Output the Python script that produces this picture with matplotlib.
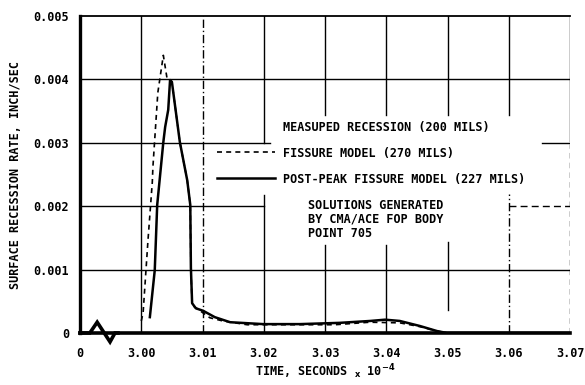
import numpy as np
import matplotlib.pyplot as plt
from matplotlib.lines import Line2D

# time in units of 1e-4 s, recession rate in inch/sec
fissure_time = [3.0000, 3.0003, 3.0011, 3.0018, 3.0019, 3.0027, 3.0036, 3.0042,
                3.0050, 3.0063, 3.0075, 3.0080, 3.0081, 3.0083, 3.0096, 3.0112,
                3.0133, 3.0173, 3.0259, 3.0316, 3.0373, 3.0422, 3.0455, 3.0483,
                3.0499, 3.0700]
fissure_rate = [0.00019, 0.00032, 0.00147, 0.00238, 0.00262, 0.00379, 0.00438, 0.00402,
                0.00396, 0.00301, 0.00241, 0.00202, 0.00103, 0.00044, 0.00035, 0.00024,
                0.00019, 0.00013, 0.00013, 0.00013, 0.00017, 0.00016, 0.00010, 0.00003,
                0.0, 0.0]

postpeak_time = [3.0014, 3.0022, 3.0026, 3.0036, 3.0039, 3.0044, 3.0047, 3.0050,
                 3.0063, 3.0075, 3.0080, 3.0081, 3.0083, 3.0089, 3.0101, 3.0120,
                 3.0145, 3.0199, 3.0259, 3.0324, 3.0374, 3.0398, 3.0422, 3.0455,
                 3.0483, 3.0499, 3.0700]
postpeak_rate = [0.00025, 0.00099, 0.00202, 0.00301, 0.00325, 0.00352, 0.00399, 0.00396,
                 0.00301, 0.00241, 0.00202, 0.00103, 0.00047, 0.00039, 0.00035, 0.00025,
                 0.00017, 0.00014, 0.00014, 0.00016, 0.00019, 0.00021, 0.00019, 0.00011,
                 0.00003, 0.0, 0.0]

x_ticklabels = ['0', '3.00', '3.01', '3.02', '3.03', '3.04', '3.05', '3.06', '3.07']
y_ticks = [0, 0.001, 0.002, 0.003, 0.004, 0.005]
y_ticklabels = ['0', '0.001', '0.002', '0.003', '0.004', '0.005']

legend_labels = ['MEASUPED RECESSION (200 MILS)',
                 'FISSURE MODEL (270 MILS)',
                 'POST-PEAK FISSURE MODEL (227 MILS)']
note = 'SOLUTIONS GENERATED\nBY CMA/ACE FOP BODY\nPOINT 705'

FONT = dict(family='DejaVu Sans Mono', fontweight='bold')


def to_axis(t):
    # broken axis: "0" sits at position 0, 3.00 at 1, then one unit per 0.01
    return (np.asarray(t) - 3.0) * 100 + 1


fig = plt.figure(figsize=(5.85, 3.85), dpi=100)
ax = fig.add_axes([0.1368, 0.1351, 0.8376, 0.8233])
ax.set_xlim(0, 8)
ax.set_ylim(0, 0.005)

# hand drawn style grid, interrupted behind the annotations
hsegs = [(0.004, 0, 8, '-'), (0.001, 0, 8, '-'),
         (0.003, 0, 3.1, '-'), (0.003, 7.54, 8, '-'),
         (0.002, 0, 3.0, '-'), (0.002, 7.0, 8, (0, (5, 3)))]
for y, x0, x1, ls in hsegs:
    ax.plot([x0, x1], [y, y], color='black', lw=1.0, ls=ls)

vsegs = [(1, 0, 0.005, '-'), (2, 0, 0.005, (0, (6, 2, 1, 2))),
         (3, 0.003, 0.005, '-'), (3, 0, 0.00218, '-'),
         (4, 0.00344, 0.005, '-'), (4, 0, 0.00139, '-'),
         (5, 0.00344, 0.005, '-'), (5, 0, 0.00139, '-'),
         (6, 0.00344, 0.005, '-'), (6, 0.00036, 0.00144, '-'),
         (7, 0.00344, 0.005, '-'), (7, 0, 0.0022, (0, (6, 2, 1, 2))),
         (8, 0.00303, 0.005, '-'), (8, 0, 0.00298, (0, (4, 3)))]
for x, y0, y1, ls in vsegs:
    ax.plot([x, x], [y0, y1], color='black', lw=1.0, ls=ls)

ax.plot(to_axis(fissure_time), fissure_rate, color='black', lw=1.2, ls=(0, (3, 2.5)))
ax.plot(to_axis(postpeak_time), postpeak_rate, color='black', lw=1.8)

# axis break mark on the time axis
ax.plot([0, 0.16, 0.28, 0.49, 0.57, 0.62], [0, 0, 0.00017, -0.00014, 0, 0],
        color='black', lw=2.6, clip_on=False, solid_joinstyle='miter', zorder=5)

ax.spines['right'].set_visible(False)
ax.spines['left'].set_linewidth(2.4)
ax.spines['bottom'].set_linewidth(2.6)
ax.spines['top'].set_linewidth(1.3)

ax.set_xticks(range(9))
ax.set_xticklabels(x_ticklabels, **FONT, fontsize=8.5)
ax.set_yticks(y_ticks)
ax.set_yticklabels(y_ticklabels, **FONT, fontsize=8.5)
ax.tick_params(axis='y', length=0, pad=8)
ax.tick_params(axis='x', length=0, pad=10)

ax.set_ylabel('SURFACE RECESSION RATE, INCH/SEC', **FONT, fontsize=8.5, labelpad=8)
ax.set_xlabel(r'TIME, SECONDS $_{\mathbf{x}}$ 10$^{\mathbf{-4}}$', **FONT, fontsize=8.5,
              labelpad=2)

handles = [Line2D([], [], color='none'),
           Line2D([], [], color='black', lw=1.2, ls=(0, (3, 2.5))),
           Line2D([], [], color='black', lw=1.8)]
ax.legend(handles, legend_labels, loc='upper left', bbox_to_anchor=(0.28, 0.67),
          frameon=False, borderpad=0, borderaxespad=0, handlelength=4.9,
          handletextpad=0.7, labelspacing=1.1,
          prop=dict(family='DejaVu Sans Mono', weight='bold', size=8.5))

ax.text(0.465, 0.423, note, transform=ax.transAxes, va='top', ha='left',
        linespacing=1.1, **FONT, fontsize=8.5)

fig.savefig('out.png', dpi=100)
